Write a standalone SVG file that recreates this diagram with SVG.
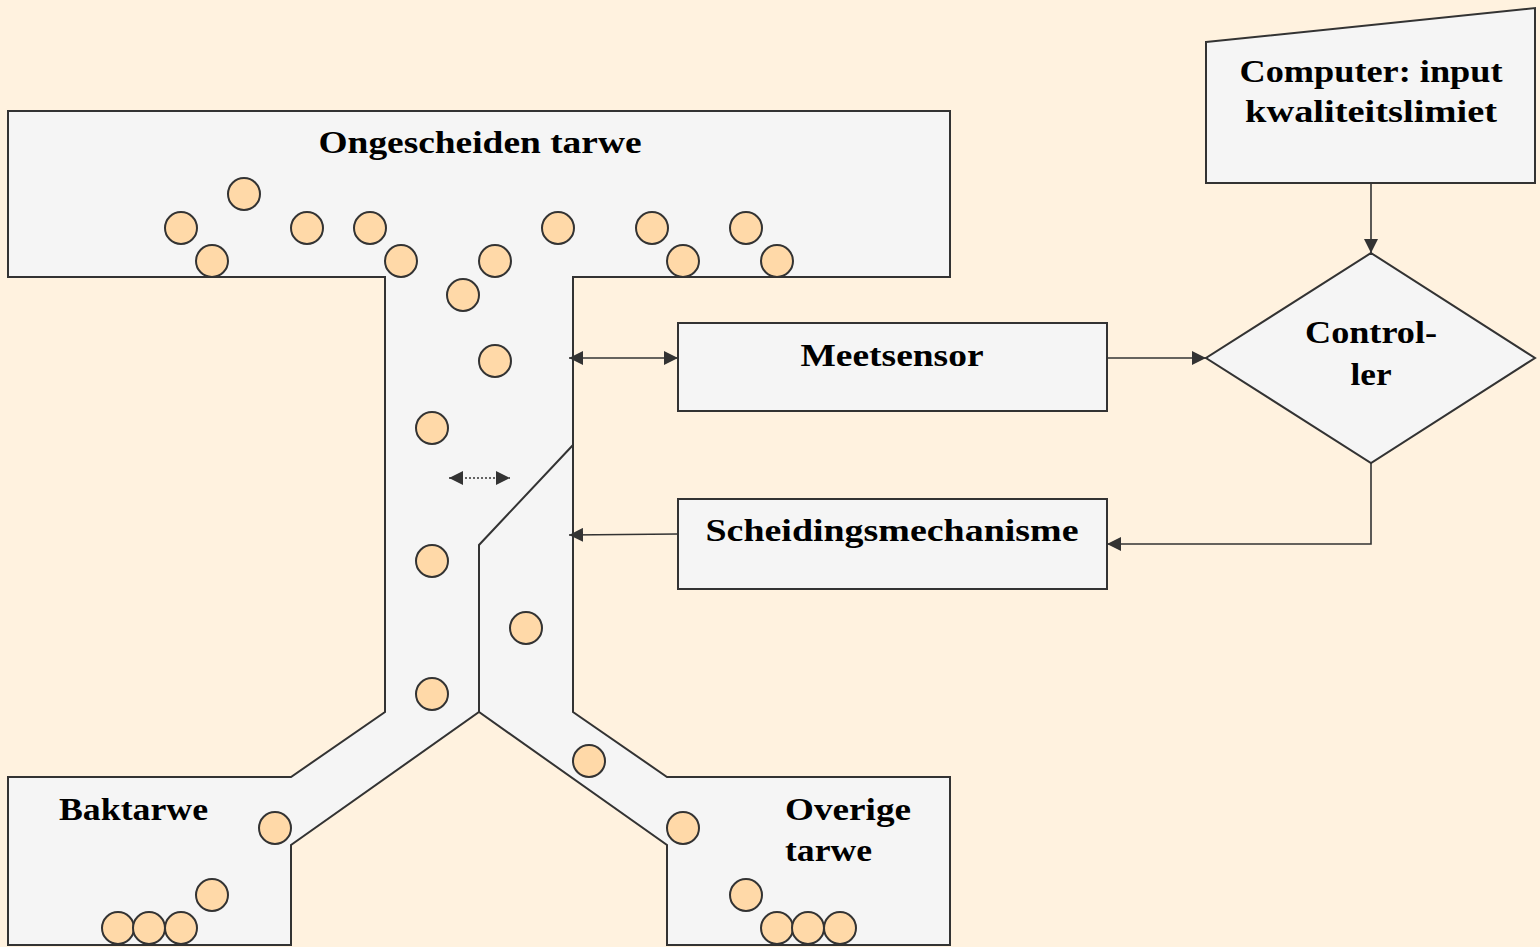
<svg xmlns="http://www.w3.org/2000/svg" width="1540" height="947" viewBox="0 0 1540 947">
<defs>
<style>
.shape{fill:#f5f5f5;stroke:#333;stroke-width:2;stroke-linejoin:miter}
.line{fill:none;stroke:#333;stroke-width:2}
.grain{fill:#ffd9a8;stroke:#333;stroke-width:2}
.conn{fill:none;stroke:#333;stroke-width:1.6}
.lbl{font-family:"Liberation Serif","Times New Roman",serif;font-weight:bold;font-size:32px;fill:#000;text-anchor:middle}
.lbl-l{font-family:"Liberation Serif","Times New Roman",serif;font-weight:bold;font-size:32px;fill:#000;text-anchor:start}
</style>
<marker id="ah" viewBox="0 0 10 10" refX="10" refY="5" markerWidth="7" markerHeight="7" orient="auto-start-reverse" markerUnits="userSpaceOnUse">
<path d="M0,0 L10,5 L0,10 Z" fill="#333"/>
</marker>
<marker id="ahb" viewBox="0 0 10 10" refX="10" refY="5" markerWidth="14" markerHeight="14" orient="auto-start-reverse" markerUnits="userSpaceOnUse">
<path d="M0,0 L10,5 L0,10 Z" fill="#333"/>
</marker>
</defs>
<rect x="0" y="0" width="1540" height="947" fill="#fff2df"/>

<g id="separator">
<path class="shape" d="M8,111 L950,111 L950,277 L573,277 L573,712 L667,777 L950,777 L950,945 L667,945 L667,845 L479,712 L291,845 L291,945 L8,945 L8,777 L291,777 L385,712 L385,277 L8,277 Z"/>
<path class="line" d="M573,445 L479,545 L479,712"/>
<text class="lbl" x="480" y="153" textLength="323" lengthAdjust="spacingAndGlyphs">Ongescheiden tarwe</text>
<text class="lbl-l" x="59" y="820" textLength="149" lengthAdjust="spacingAndGlyphs">Baktarwe</text>
<text class="lbl-l" x="785" y="820" textLength="126" lengthAdjust="spacingAndGlyphs">Overige</text>
<text class="lbl-l" x="785" y="861" textLength="87" lengthAdjust="spacingAndGlyphs">tarwe</text>
</g>

<g id="grains">
<circle class="grain" cx="244" cy="194" r="16"/>
<circle class="grain" cx="181" cy="228" r="16"/>
<circle class="grain" cx="212" cy="261" r="16"/>
<circle class="grain" cx="307" cy="228" r="16"/>
<circle class="grain" cx="370" cy="228" r="16"/>
<circle class="grain" cx="401" cy="261" r="16"/>
<circle class="grain" cx="495" cy="261" r="16"/>
<circle class="grain" cx="558" cy="228" r="16"/>
<circle class="grain" cx="652" cy="228" r="16"/>
<circle class="grain" cx="683" cy="261" r="16"/>
<circle class="grain" cx="746" cy="228" r="16"/>
<circle class="grain" cx="777" cy="261" r="16"/>
<circle class="grain" cx="463" cy="295" r="16"/>
<circle class="grain" cx="495" cy="361" r="16"/>
<circle class="grain" cx="432" cy="428" r="16"/>
<circle class="grain" cx="432" cy="561" r="16"/>
<circle class="grain" cx="526" cy="628" r="16"/>
<circle class="grain" cx="432" cy="694" r="16"/>
<circle class="grain" cx="589" cy="761" r="16"/>
<circle class="grain" cx="275" cy="828" r="16"/>
<circle class="grain" cx="683" cy="828" r="16"/>
<circle class="grain" cx="212" cy="895" r="16"/>
<circle class="grain" cx="118" cy="928" r="16"/>
<circle class="grain" cx="149" cy="928" r="16"/>
<circle class="grain" cx="181" cy="928" r="16"/>
<circle class="grain" cx="746" cy="895" r="16"/>
<circle class="grain" cx="777" cy="928" r="16"/>
<circle class="grain" cx="808" cy="928" r="16"/>
<circle class="grain" cx="840" cy="928" r="16"/>
</g>

<g id="meetsensor">
<rect class="shape" x="678" y="323" width="429" height="88"/>
<text class="lbl" x="892" y="366" textLength="183" lengthAdjust="spacingAndGlyphs">Meetsensor</text>
</g>

<g id="scheidingsmechanisme">
<rect class="shape" x="678" y="499" width="429" height="90"/>
<text class="lbl" x="892" y="541" textLength="373" lengthAdjust="spacingAndGlyphs">Scheidingsmechanisme</text>
</g>

<g id="controller">
<path class="shape" d="M1371,253 L1535,358 L1371,463 L1206,358 Z"/>
<text class="lbl" x="1371" y="343" textLength="132" lengthAdjust="spacingAndGlyphs">Control-</text>
<text class="lbl" x="1371" y="385" textLength="41" lengthAdjust="spacingAndGlyphs">ler</text>
</g>

<g id="computer">
<path class="shape" d="M1206,42 L1535,8 L1535,183 L1206,183 Z"/>
<text class="lbl" x="1371" y="82" textLength="263" lengthAdjust="spacingAndGlyphs">Computer: input</text>
<text class="lbl" x="1371" y="122" textLength="252" lengthAdjust="spacingAndGlyphs">kwaliteitslimiet</text>
</g>

<g id="connectors">
<path class="conn" d="M569,358 L678,358" marker-start="url(#ahb)" marker-end="url(#ahb)"/>
<path class="conn" d="M678,534 L569,535" marker-end="url(#ahb)"/>
<path class="conn" d="M1107,358 L1206,358" marker-end="url(#ahb)"/>
<path class="conn" d="M1371,183 L1371,253" marker-end="url(#ahb)"/>
<path class="conn" d="M1371,463 L1371,544 L1107,544" marker-end="url(#ahb)"/>
<path fill="none" stroke="#333" stroke-width="1.5" stroke-dasharray="2,2" d="M449,478 L510,478" marker-start="url(#ahb)" marker-end="url(#ahb)"/>
</g>
</svg>
